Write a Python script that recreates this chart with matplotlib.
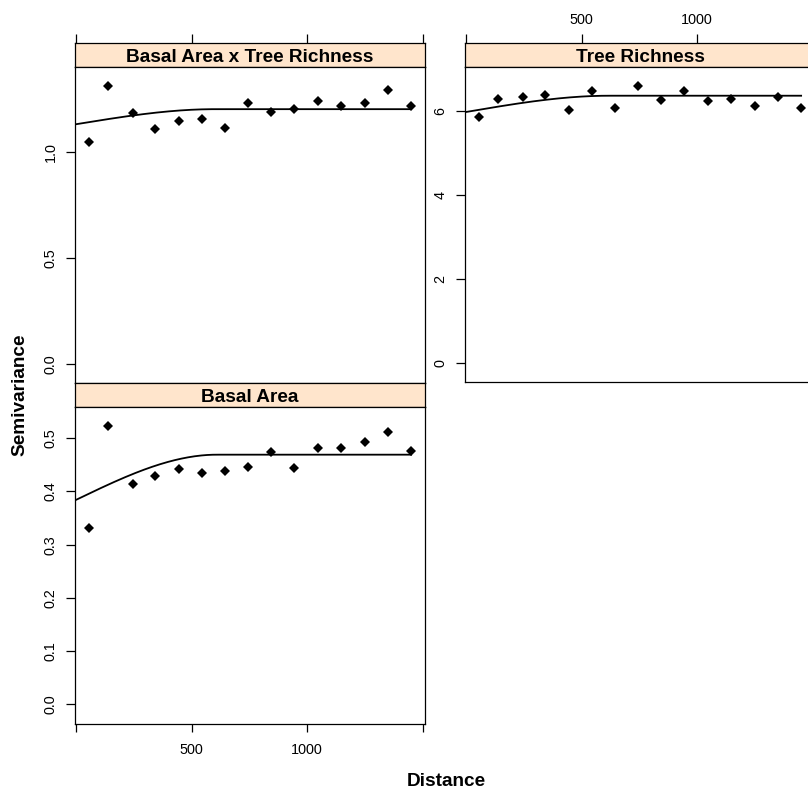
import numpy as np
import matplotlib
matplotlib.use("Agg")
import matplotlib.pyplot as plt

plt.rcParams['font.family'] = ['Liberation Sans', 'DejaVu Sans']

# ---------------- data ----------------
dist = [58, 138, 245, 342, 444, 544, 643, 745, 845, 944, 1047, 1148, 1250, 1348, 1450]

gamma_cross = [1.044, 1.309, 1.181, 1.108, 1.143, 1.154, 1.113, 1.228, 1.187, 1.201,
               1.237, 1.214, 1.229, 1.292, 1.214]
gamma_rich = [5.843, 6.278, 6.325, 6.380, 6.009, 6.461, 6.057, 6.594, 6.261, 6.461,
              6.238, 6.278, 6.105, 6.333, 6.057]
gamma_basal = [0.332, 0.522, 0.414, 0.429, 0.442, 0.435, 0.438, 0.446, 0.474, 0.444,
               0.482, 0.481, 0.492, 0.512, 0.475]

# fitted spherical models: nugget, sill, range
model_cross = (1.129, 1.200, 600)
model_rich = (5.969, 6.356, 620)
model_basal = (0.384, 0.469, 610)

panel_titles = ["Basal Area x Tree Richness", "Tree Richness", "Basal Area"]
x_ticks = [0, 500, 1000, 1500]
x_ticklabels = ["", "500", "1000", ""]
y_ticks_cross = [0.0, 0.5, 1.0]
y_ticks_rich = [0, 2, 4, 6]
y_ticks_basal = [0.0, 0.1, 0.2, 0.3, 0.4, 0.5]


def spherical(h, nug, sill, rng):
    h = np.asarray(h, dtype=float)
    r = np.clip(h / rng, 0, 1)
    return nug + (sill - nug) * (1.5 * r - 0.5 * r ** 3)


# ---------------- layout ----------------
W, H = 808, 793
fig = plt.figure(figsize=(W / 100, H / 100), dpi=100)

STRIP = '#ffe5cc'
XLIM = (-4, 1510)
TICKFS = 10.4
BOLDFS = 13.7


def px_axes(left, top, width, height):
    return fig.add_axes([left / W, 1 - (top + height) / H, width / W, height / H])


def make_strip(left, top, width, title, top_ticks, top_labels):
    s = px_axes(left, top, width, 24.2)
    s.set_facecolor(STRIP)
    s.set_xlim(*XLIM)
    s.set_ylim(0, 1)
    s.set_yticks([])
    for sp in s.spines.values():
        sp.set_linewidth(0.9)
    s.text(0.5, 0.21, title, transform=s.transAxes, ha='center', va='baseline',
           fontsize=BOLDFS, fontweight='bold')
    if top_ticks:
        s.xaxis.set_ticks_position('top')
        s.set_xticks(x_ticks)
        s.tick_params(axis='x', direction='out', length=6.5, width=0.9, pad=5,
                      labelsize=TICKFS, bottom=False, labelbottom=False,
                      labeltop=top_labels)
        if top_labels:
            s.set_xticklabels(x_ticklabels)
    else:
        s.set_xticks([])
    return s


def make_panel(left, top, width, height, yt, ylim, ylabfmt, bottom_ticks):
    ax = px_axes(left, top, width, height)
    ax.set_xlim(*XLIM)
    ax.set_ylim(*ylim)
    ax.set_yticks(yt)
    ax.set_yticklabels([ylabfmt.format(v) for v in yt], rotation=90, va='center')
    ax.tick_params(axis='y', direction='out', length=6.5, width=0.9, pad=6,
                   labelsize=TICKFS, right=False)
    if bottom_ticks:
        ax.set_xticks(x_ticks)
        ax.set_xticklabels(x_ticklabels)
        ax.tick_params(axis='x', direction='out', length=6, width=0.9, pad=8,
                       labelsize=TICKFS, top=False)
    else:
        ax.set_xticks([])
    for sp in ax.spines.values():
        sp.set_linewidth(0.9)
    return ax


def draw(ax, gam, model):
    ax.plot(dist, gam, linestyle='none', marker='D', markersize=4.9,
            color='black', markeredgewidth=0)
    hh = np.linspace(0, dist[-1], 300)
    ax.plot(hh, spherical(hh, *model), color='black', lw=1.3)


# top-left: cross variogram
make_strip(75, 42.5, 350, panel_titles[0], True, False)
ax1 = make_panel(75, 66.7, 350, 316.6, y_ticks_cross, (-0.091, 1.400), "{:.1f}", False)
draw(ax1, gamma_cross, model_cross)

# top-right: tree richness (extends past the figure edge)
make_strip(465, 42.5, 350, panel_titles[1], True, True)
ax2 = make_panel(465, 66.7, 350, 315.6, y_ticks_rich, (-0.45, 7.045), "{:d}", False)
draw(ax2, gamma_rich, model_rich)

# bottom-left: basal area
make_strip(75, 383.3, 350, panel_titles[2], False, False)
ax3 = make_panel(75, 407.3, 350, 316.7, y_ticks_basal, (-0.037, 0.558), "{:.1f}", True)
draw(ax3, gamma_basal, model_basal)

fig.text(20 / W, 1 - 395 / H, "Semivariance", rotation=90, ha='center', va='center',
         fontsize=BOLDFS, fontweight='bold')
fig.text(446 / W, 1 - 782 / H, "Distance", ha='center', va='center',
         fontsize=BOLDFS, fontweight='bold')

fig.savefig("out.png", dpi=100)
